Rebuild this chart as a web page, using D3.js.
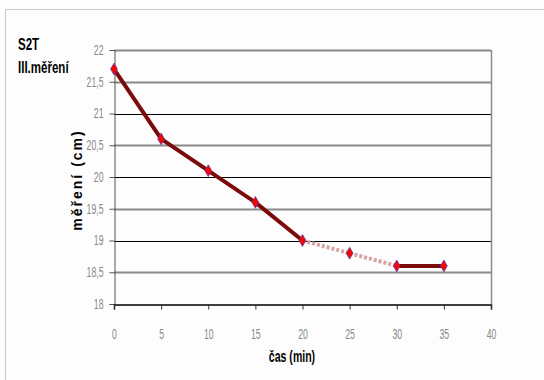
<!DOCTYPE html>
<html>
<head>
<meta charset="utf-8">
<script src="https://cdn.jsdelivr.net/npm/d3@7"></script>
<style>
  body { margin: 0; background: #fff; }
  svg { display: block; }
</style>
</head>
<body>
<div id="chart"></div>
<script>
// time in minutes and measured value (cm)
const times = [0, 5, 10, 15, 20, 25, 30, 35];
const values = [21.7, 20.6, 20.1, 19.6, 19.0, 18.8, 18.6, 18.6];
// indexes of segments drawn pale/dotted (20 -> 30 min)
const paleSegments = [4, 5];
const xTicks = [0, 5, 10, 15, 20, 25, 30, 35, 40];
const yTicks = [18, 18.5, 19, 19.5, 20, 20.5, 21, 21.5, 22];

const W = 544, H = 380;
const plot = {left: 114, right: 491, top: 50, bottom: 304};

const svg = d3.select("#chart").append("svg")
    .attr("width", W).attr("height", H);

svg.append("rect").attr("width", W).attr("height", H).attr("fill", "#fdfdfd");
// page frame
svg.append("path")
    .attr("d", `M5.5,${H} V9.5 H${W}`)
    .attr("fill", "none").attr("stroke", "#c8c8c8").attr("stroke-width", 1);

const x = d3.scaleLinear().domain([0, 40]).range([plot.left, plot.right]);
const y = d3.scaleLinear().domain([18, 22]).range([plot.bottom, plot.top]);

const font = "'Liberation Sans', Arial, sans-serif";

// squeeze text horizontally to mimic a narrow face
function narrow(sel, k) {
    sel.each(function () {
        const w = this.getComputedTextLength();
        d3.select(this).attr("textLength", w * k).attr("lengthAdjust", "spacingAndGlyphs");
    });
}

// gridlines: half steps gray and thicker, whole numbers thin black
svg.append("g").selectAll("line")
    .data(yTicks.filter(d => d > 18))
    .enter().append("line")
    .attr("x1", plot.left).attr("x2", plot.right)
    .attr("y1", d => Math.round(y(d)) + 0.5).attr("y2", d => Math.round(y(d)) + 0.5)
    .attr("stroke", d => (d % 1 === 0 && d !== 22) ? "#000" : "#8a8a8a")
    .attr("stroke-width", d => (d % 1 === 0 && d !== 22) ? 1 : 2);

// right border of the plot
svg.append("line")
    .attr("x1", plot.right + 0.5).attr("x2", plot.right + 0.5)
    .attr("y1", plot.top).attr("y2", plot.bottom)
    .attr("stroke", "#8a8a8a").attr("stroke-width", 1.5);

const fmt = d => String(d).replace(".", ",");

const yAxis = svg.append("g")
    .attr("transform", `translate(${plot.left + 0.5},0)`)
    .call(d3.axisLeft(y).tickValues(yTicks).tickFormat(fmt).tickSize(5).tickPadding(6));
yAxis.select(".domain").attr("stroke", "#555");
yAxis.selectAll(".tick line").attr("stroke", "#555");
yAxis.selectAll("text")
    .attr("fill", "#888")
    .style("font-family", font)
    .style("font-size", "14px")
    .call(narrow, 0.62);

const xAxis = svg.append("g")
    .attr("transform", `translate(0,${plot.bottom + 0.5})`)
    .call(d3.axisBottom(x).tickValues(xTicks).tickSize(5).tickPadding(20));
xAxis.select(".domain").attr("stroke", "#000").attr("stroke-width", 1.5);
xAxis.selectAll(".tick line").attr("stroke", "#333");
xAxis.selectAll("text")
    .attr("fill", "#888")
    .style("font-family", font)
    .style("font-size", "14px")
    .call(narrow, 0.62);

// data line, segment by segment
const pts = times.map((t, i) => ({t, v: values[i]}));
const segs = d3.pairs(pts).map((p, i) => ({p, pale: paleSegments.includes(i)}));

svg.append("g").selectAll("line")
    .data(segs)
    .enter().append("line")
    .attr("x1", d => x(d.p[0].t)).attr("y1", d => y(d.p[0].v))
    .attr("x2", d => x(d.p[1].t)).attr("y2", d => y(d.p[1].v))
    .attr("stroke", d => d.pale ? "#d7a3a3" : "#7d0a0a")
    .attr("stroke-width", 4)
    .attr("stroke-dasharray", d => d.pale ? "3,2" : null)
    .attr("stroke-linecap", d => d.pale ? "butt" : "round");

// markers
svg.append("g").selectAll("path")
    .data(pts)
    .enter().append("path")
    .attr("d", d3.symbol().type(d3.symbolDiamond).size(40))
    .attr("transform", d => `translate(${x(d.t)},${y(d.v)})`)
    .attr("fill", "#ff0000")
    .attr("stroke", "#5a3fa8")
    .attr("stroke-width", 0.8);

// titles
svg.append("text").attr("x", 18).attr("y", 50)
    .text("S2T")
    .style("font-family", font)
    .style("font-weight", "bold").style("font-size", "16px")
    .call(narrow, 0.72);
svg.append("text").attr("x", 18).attr("y", 73)
    .text("III.měření")
    .style("font-family", font)
    .style("font-weight", "bold").style("font-size", "16px")
    .call(narrow, 0.72);

svg.append("text")
    .attr("transform", `translate(82,180) rotate(-90)`)
    .attr("text-anchor", "middle")
    .text("měření (cm)")
    .style("font-family", font)
    .style("letter-spacing", "2px")
    .style("font-weight", "bold").style("font-size", "14px");

svg.append("text")
    .attr("x", 292).attr("y", 362)
    .attr("text-anchor", "middle")
    .text("čas (min)")
    .style("font-family", font)
    .style("font-weight", "bold").style("font-size", "17px")
    .call(narrow, 0.62);
</script>
</body>
</html>
